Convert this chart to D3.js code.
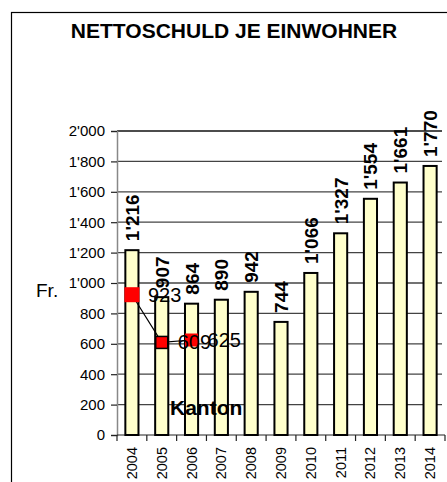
<!DOCTYPE html>
<html>
<head>
<meta charset="utf-8">
<script src="https://cdn.jsdelivr.net/npm/d3@7"></script>
<style>
  html, body { margin:0; background:#fff; overflow:hidden; }
  svg { display:block; font-family:"Liberation Sans", Arial, sans-serif; }
</style>
</head>
<body>
<div id="chart"></div>
<script>
// data
const years = ["2004","2005","2006","2007","2008","2009","2010","2011","2012","2013","2014"];
const debt = [1216, 907, 864, 890, 942, 744, 1066, 1327, 1554, 1661, 1770];
// Kanton line only has three points
const kantonYears = ["2004","2005","2006"];
const kantonVals = [923, 609, 625];
const yTicks = [0,200,400,600,800,1000,1200,1400,1600,1800,2000];

const W = 447, H = 482;
const m = { top:131, left:117, right:2, bottom:47 };
const iw = W - m.left - m.right, ih = H - m.top - m.bottom;

// swiss thousands separator, e.g. 1'216
const fmt = v => d3.format(",")(v).replace(/,/g, "'");

const svg = d3.select("#chart").append("svg").attr("width", W).attr("height", H);

// outer chart frame, runs off the right and bottom edges
svg.append("rect").attr("x", 11.5).attr("y", 12.5).attr("width", 460).attr("height", 500)
  .attr("fill", "none").attr("stroke", "#000").attr("stroke-width", 1.2);

svg.append("text").attr("x", 234).attr("y", 38).attr("text-anchor", "middle")
  .attr("font-size", 21).attr("font-weight", "bold").text("NETTOSCHULD JE EINWOHNER");

svg.append("text").attr("x", 36).attr("y", 297).attr("font-size", 19).text("Fr.");

const g = svg.append("g").attr("transform", `translate(${m.left},${m.top})`);

const x = d3.scaleBand().domain(years).range([0, iw]).paddingInner(0.56).paddingOuter(0.28);
const xb = d3.scaleBand().domain(years).range([0, iw]); // for tick positions between categories
const y = d3.scaleLinear().domain([0, 2000]).range([ih, 0]);

// gridlines
g.append("g").selectAll("line").data(yTicks.filter(d => d > 0)).enter().append("line")
  .attr("x1", 0).attr("x2", iw - 3).attr("y1", d => y(d)).attr("y2", d => y(d))
  .attr("stroke", d => d === 2000 ? "#111" : "#444").attr("stroke-width", 1.3);

// y axis
const gy = g.append("g").call(d3.axisLeft(y).tickValues(yTicks).tickSize(6).tickPadding(6).tickFormat(fmt));
gy.select(".domain").attr("stroke", "#888").attr("stroke-width", 1.5);
gy.selectAll(".tick line").attr("stroke", "#222").attr("stroke-width", 1.2);
gy.selectAll("text").attr("font-size", 15).attr("font-family", "Liberation Sans, Arial, sans-serif").attr("fill", "#000");

// x axis: ticks sit between the bars
const gx = g.append("g").attr("transform", `translate(0,${ih})`);
gx.append("line").attr("x1", 0).attr("x2", iw).attr("stroke", "#222").attr("stroke-width", 1.2);
gx.selectAll(".xt").data(years.concat(["end"])).enter().append("line")
  .attr("x1", (d,i) => i * xb.step()).attr("x2", (d,i) => i * xb.step())
  .attr("y1", 0).attr("y2", 6).attr("stroke", "#222").attr("stroke-width", 1.2);
gx.selectAll(".yl").data(years).enter().append("text")
  .attr("transform", d => `translate(${xb(d) + xb.bandwidth()/2 + 5},${12}) rotate(-90)`)
  .attr("text-anchor", "end").attr("font-size", 14.5).text(d => d);

// bars
g.selectAll(".bar").data(debt).enter().append("rect")
  .attr("x", (d,i) => x(years[i])).attr("y", d => y(d))
  .attr("width", x.bandwidth()).attr("height", d => ih - y(d))
  .attr("fill", "#FFFFCC").attr("stroke", "#000").attr("stroke-width", 2);

// value labels on top of bars
g.selectAll(".val").data(debt).enter().append("text")
  .attr("transform", (d,i) => `translate(${xb(years[i]) + xb.bandwidth()/2 + 7},${y(d) - 9}) rotate(-90)`)
  .attr("font-size", 19).attr("font-weight", "bold").text(fmt);

// Kanton line
const kx = d => xb(d) + xb.bandwidth()/2;
const kpts = kantonYears.map((d,i) => [kx(d), y(kantonVals[i])]);
g.append("path").attr("d", d3.line()(kpts)).attr("fill", "none").attr("stroke", "#000").attr("stroke-width", 1.2);
const msize = [15, 12, 13];
g.selectAll(".mk").data(kpts).enter().append("rect")
  .attr("x", (d,i) => d[0] - msize[i]/2).attr("y", (d,i) => d[1] - msize[i]/2)
  .attr("width", (d,i) => msize[i]).attr("height", (d,i) => msize[i])
  .attr("fill", "#FF0000").attr("stroke", (d,i) => i === 1 ? "#000" : "none").attr("stroke-width", 1.5);
g.selectAll(".kl").data(kpts).enter().append("text")
  .attr("x", d => d[0] + 16).attr("y", d => d[1] + 7)
  .attr("font-size", 20).text((d,i) => kantonVals[i]);

svg.append("text").attr("x", 170).attr("y", 415).attr("font-size", 21).attr("font-weight", "bold").text("Kanton");
</script>
</body>
</html>
